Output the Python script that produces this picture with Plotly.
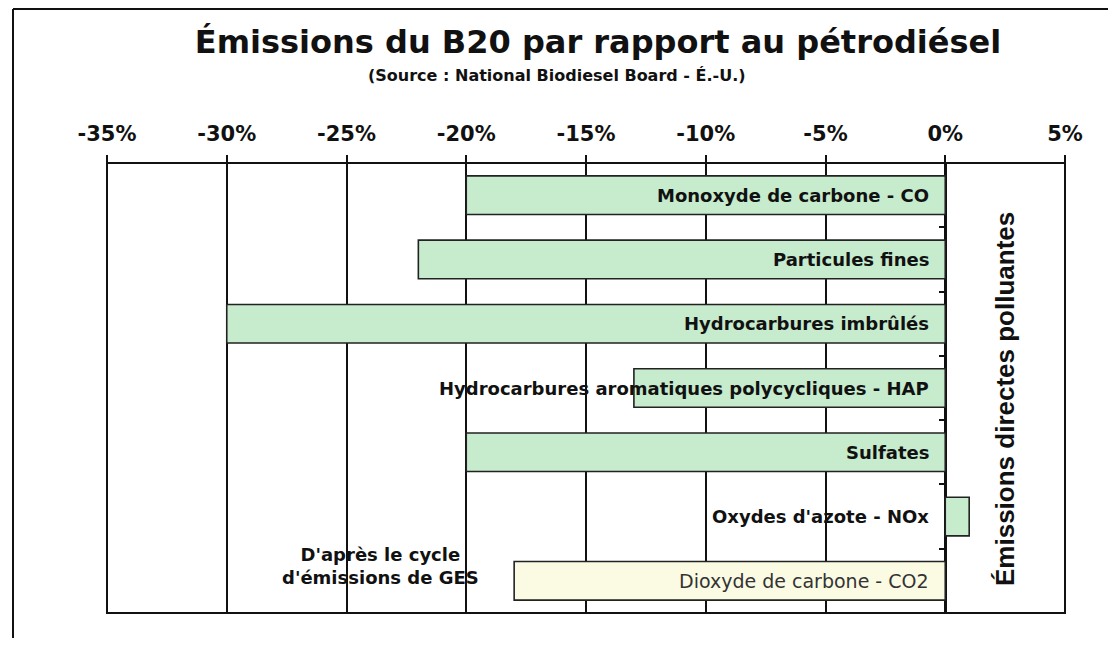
import plotly.graph_objects as go

categories = [
    "Monoxyde de carbone - CO",
    "Particules fines",
    "Hydrocarbures imbrûlés",
    "Hydrocarbures aromatiques polycycliques - HAP",
    "Sulfates",
    "Oxydes d'azote - NOx",
    "Dioxyde de carbone - CO2",
]
values = [-20, -22, -30, -13, -20, 1, -18]
bar_groups = ["direct", "direct", "direct", "direct", "direct", "direct", "ges"]
tick_values = [-35, -30, -25, -20, -15, -10, -5, 0, 5]
tick_labels = ["-35%", "-30%", "-25%", "-20%", "-15%", "-10%", "-5%", "0%", "5%"]

title_text = "Émissions du B20 par rapport au pétrodiésel"
subtitle_text = "(Source : National Biodiesel Board - É.-U.)"
side_label = "Émissions directes polluantes"
ges_label = "D'après le cycle<br>d'émissions de GES"

GREEN = "#c6ebcd"
CREAM = "#fbfbe4"
fills = [GREEN if g == "direct" else CREAM for g in bar_groups]

# page body has an 8px margin: figure pixel = reference pixel - 8
OFF = 8
W, H = 1100, 630
ML, MT = 107 - OFF, 163 - OFF
MR = W - (1065 - OFF)
MB = H - (613 - OFF)
PW, PH = W - ML - MR, H - MT - MB


def px_x(p):
    return (p - OFF - ML) / PW


def px_y(p):
    return (H - MB - (p - OFF)) / PH


fig = go.Figure()
fig.add_trace(go.Bar(
    x=values,
    y=categories,
    orientation="h",
    marker=dict(color=fills, line=dict(color="#222222", width=1.6)),
    hoverinfo="x+y",
    showlegend=False,
))

bold = dict(family="DejaVu Sans", size=18, color="#111111", weight=700)
for cat, grp in zip(categories, bar_groups):
    if grp == "direct":
        f = bold
    else:
        f = dict(family="DejaVu Sans", size=19, color="#333333")
    fig.add_annotation(
        x=0, y=cat, xref="x", yref="y", text=cat, showarrow=False,
        xanchor="right", yanchor="middle", xshift=-14, font=f,
    )

fig.add_annotation(
    x=px_x(380), y=px_y(566), xref="paper", yref="paper", text=ges_label,
    showarrow=False, xanchor="center", yanchor="middle", align="center",
    font=bold,
)

fig.add_annotation(
    x=px_x(1005), y=px_y(399), xref="paper", yref="paper", text=side_label,
    showarrow=False, textangle=-90, xanchor="center", yanchor="middle",
    font=dict(family="Liberation Sans", size=26, color="#111111", weight=700),
)

fig.add_annotation(
    x=px_x(557), y=px_y(75), xref="paper", yref="paper", text=subtitle_text,
    showarrow=False, xanchor="center", yanchor="middle",
    font=dict(family="DejaVu Sans", size=16, color="#111111", weight=700),
)

# plot frame
fig.add_shape(type="rect", xref="paper", yref="paper", x0=0, y0=0, x1=1, y1=1,
              line=dict(color="#111111", width=2))
# outer frame (left and top edges)
fig.add_shape(type="line", xref="paper", yref="paper",
              x0=px_x(13), x1=px_x(13), y0=px_y(OFF + 1), y1=px_y(H + OFF + 5),
              line=dict(color="#111111", width=2))
fig.add_shape(type="line", xref="paper", yref="paper",
              x0=px_x(13), x1=px_x(W + OFF + 5), y0=px_y(OFF + 1), y1=px_y(OFF + 1),
              line=dict(color="#111111", width=2))

fig.update_layout(
    width=W, height=H,
    margin=dict(l=ML, r=MR, t=MT, b=MB),
    paper_bgcolor="white", plot_bgcolor="white",
    bargap=0.4,
    title=dict(text=title_text, x=(598 - OFF) / W, xanchor="center",
               y=1 - (42 - OFF) / H, yanchor="middle", xref="container", yref="container",
               font=dict(family="DejaVu Sans", size=32, color="#111111", weight=700)),
    xaxis=dict(
        side="top", range=[-35, 5], tickvals=tick_values, ticktext=tick_labels,
        showgrid=True, gridcolor="#111111", gridwidth=2,
        zeroline=True, zerolinecolor="#111111", zerolinewidth=3,
        ticks="outside", ticklen=7, tickwidth=2, tickcolor="#111111",
        ticklabelstandoff=6, showline=False,
        tickfont=dict(family="DejaVu Sans", size=21, color="#111111", weight=700),
    ),
    yaxis=dict(
        autorange="reversed", showticklabels=False, showgrid=False, zeroline=False,
        side="right", anchor="free", position=px_x(945),
        ticks="inside", tickson="boundaries", ticklen=6, tickwidth=2,
        tickcolor="#111111", showline=False,
    ),
)

fig.write_html("out.html")
